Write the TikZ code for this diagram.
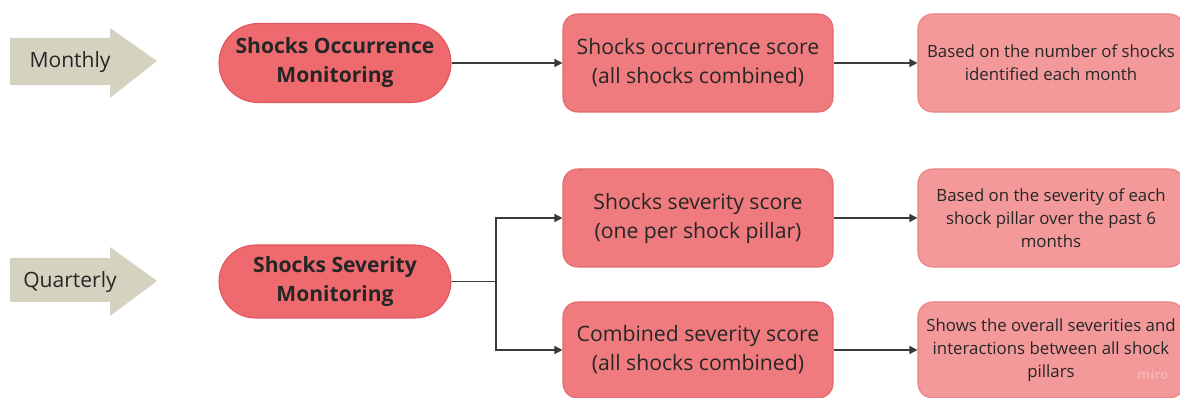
\documentclass[tikz,border=0pt]{standalone}
\usepackage{fontspec}
\setmainfont{Open Sans}
\usetikzlibrary{arrows.meta,positioning}
\definecolor{pillred}{HTML}{EE6A6E}
\definecolor{pillborder}{HTML}{E0585E}
\definecolor{scorered}{HTML}{F07B7E}
\definecolor{scoreborder}{HTML}{E6686C}
\definecolor{lightred}{HTML}{F3999A}
\definecolor{lightborder}{HTML}{EC8084}
\definecolor{beige}{HTML}{D6D2C0}
\definecolor{ink}{HTML}{262626}
\definecolor{linec}{HTML}{3A3A3A}
\begin{document}
\begin{tikzpicture}[x=0.75pt,y=-0.75pt,
  pill/.style={draw=pillborder,fill=pillred,line width=0.8pt,text=ink,align=center,
    minimum width=174pt,font=\bfseries\fontsize{15.8}{21.75}\selectfont,inner sep=0pt},
  scorebox/.style={draw=scoreborder,fill=scorered,line width=0.8pt,rounded corners=11pt,text=ink,align=center,
    minimum width=202.5pt,minimum height=73.5pt,font=\fontsize{15.9}{21.75}\selectfont,inner sep=0pt},
  notebox/.style={draw=lightborder,fill=lightred,line width=0.8pt,rounded corners=11pt,text=ink,align=center,
    minimum width=199.5pt,minimum height=73.5pt,font=\fontsize{12.6}{17.2}\selectfont,inner sep=0pt},
  conn/.style={draw=linec,line width=0.9pt,-{Triangle[length=6pt,width=6pt]}},
  freqtext/.style={text=ink,font=\fontsize{15.8}{18}\selectfont,inner sep=0pt}]
\useasboundingbox (0,0) rectangle (1180,398);
\fill[white] (0,0) rectangle (1180,398);
% frequency arrows
\fill[beige] (10,38)--(110,38)--(110,28)--(157,61)--(110,98)--(110,85)--(10,85)--cycle;
\node[freqtext] (monthly) at (70,62) {Monthly};
\fill[beige] (10,258)--(110,258)--(110,247)--(157,281)--(110,316)--(110,302)--(10,302)--cycle;
\node[freqtext] (quarterly) at (70,282) {Quarterly};
% pills
\node[pill,minimum height=59.25pt,rounded corners=29.5pt] (occmon) at (335,63) {Shocks Occurrence\\Monitoring};
\node[pill,minimum height=54.75pt,rounded corners=27.3pt] (sevmon) at (335,281.5) {Shocks Severity\\Monitoring};
% score boxes
\node[scorebox] (occscore) at (698,63) {Shocks occurrence score\\(all shocks combined)};
\node[scorebox] (sevscore) at (698,218) {Shocks severity score\\(one per shock pillar)};
\node[scorebox,minimum height=72pt] (combscore) at (698,350) {Combined severity score\\(all shocks combined)};
% note boxes
\node[notebox] (occnote) at (1051,63) {Based on the number of shocks\\identified each month};
\node[notebox] (sevnote) at (1051,218) {Based on the severity of each\\shock pillar over the past 6\\months};
\node[notebox,minimum height=72pt] (combnote) at (1051,350) {Shows the overall severities and\\interactions between all shock\\pillars};
% watermark
\node[text=lightred!75!white,font=\bfseries\fontsize{10}{12}\selectfont,inner sep=0pt] (miro) at (1153,375) {miro};
% connectors
\draw[conn] (occmon.east) -- (occscore.west);
\coordinate (split) at (496,281.5);
\draw[draw=linec,line width=0.9pt] (sevmon.east) -- (split);
\draw[conn] (split) |- (sevscore.west);
\draw[conn] (split) |- (combscore.west);
\draw[conn] (occscore.east) -- (occnote.west);
\draw[conn] (sevscore.east) -- (sevnote.west);
\draw[conn] (combscore.east) -- (combnote.west);
\end{tikzpicture}
\end{document}
